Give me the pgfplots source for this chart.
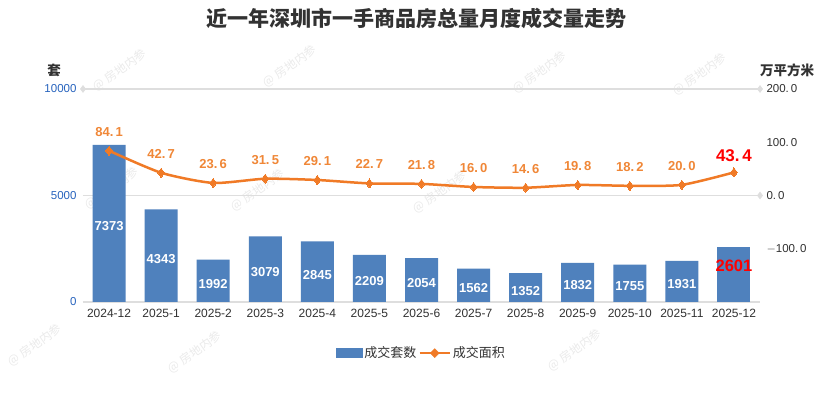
\documentclass[border=0pt]{standalone}
\usepackage{pgfplots}
\pgfplotsset{compat=1.18}
\usepackage{fontspec}
\setmainfont{Liberation Sans}
\newfontfamily\cjk{Noto Sans CJK SC}
\definecolor{barblue}{RGB}{79,129,189}
\definecolor{lineorange}{RGB}{240,122,38}
\definecolor{lblorange}{RGB}{240,135,55}
\definecolor{tickblue}{RGB}{40,100,190}
\definecolor{gridgray}{RGB}{222,222,222}
\definecolor{txt}{RGB}{50,50,50}
\begin{document}
\begin{tikzpicture}
\path[use as bounding box, fill=white] (0,0) rectangle (833pt,393pt);
\foreach \x/\y in {120/70, 290/66, 540/72, 700/74, 112/188, 258/190, 440/192, 35/345, 195/352, 575/350} {
  \node[gray, opacity=0.16, rotate=35, font=\cjk\fontsize{12}{12}\selectfont] at (\x pt,393pt-\y pt) {@ 房地内参};
}
\begin{axis}[
  at={(83pt,91pt)}, anchor=south west, scale only axis,
  width=677pt, height=213pt,
  xmin=-0.5, xmax=12.5, ymin=0, ymax=10000,
  axis line style={draw=none},
  major tick length=0pt,
  ytick={0,5000,10000},
  ymajorgrids, grid style={gridgray, line width=1.2pt},
  yticklabel style={tickblue, font=\fontsize{11.5}{12}\selectfont, xshift=-3pt},
  scaled y ticks=false,
  /pgf/number format/1000 sep={},
  /pgf/number format/assume math mode=true,
  xtick={0,...,12},
  xticklabels={2024-12,2025-1,2025-2,2025-3,2025-4,2025-5,2025-6,2025-7,2025-8,2025-9,2025-10,2025-11,2025-12},
  xticklabel style={txt, font=\fontsize{12}{12}\selectfont, yshift=-4pt},
  clip=false,
  legend style={draw=none, fill=none, at={(0.5,-0.24)}, anchor=center, legend columns=2,
    font=\cjk\fontsize{13}{13}\selectfont, text=txt,
    /tikz/every even column/.append style={column sep=0pt},
    inner sep=0pt, cells={anchor=west}},
]
\addplot[only marks, mark=diamond*, mark size=3.5pt, gridgray, forget plot]
  coordinates {(-0.5,10000) (12.5,10000) (12.5,5000)};
\addplot[ybar, bar width=33pt, bar shift=0pt, fill=barblue, draw=none, forget plot,
  visualization depends on=rawy\as\rawy,
  nodes near coords,
  every node near coord/.append style={white, font=\bfseries\fontsize{13}{13}\selectfont,
     anchor=center, shift={(axis direction cs:0,-\rawy/2)}, yshift=-3pt},
  /pgf/number format/1000 sep={}]
  coordinates {(0,7373) (1,4343) (2,1992) (3,3079) (4,2845) (5,2209) (6,2054) (7,1562) (8,1352) (9,1832) (10,1755) (11,1931)};
\addplot[ybar, bar width=33pt, bar shift=0pt, fill=barblue, draw=none, forget plot,
  visualization depends on=rawy\as\rawy,
  nodes near coords,
  every node near coord/.append style={red, font=\bfseries\fontsize{16.5}{16}\selectfont,
     anchor=center, shift={(axis direction cs:0,-\rawy/2)}, yshift=8pt},
  /pgf/number format/1000 sep={}]
  coordinates {(12,2601)};
\addlegendimage{legend image code/.code={\fill[barblue] (0pt,-4.5pt) rectangle (26pt,4.5pt);}}
\addlegendentry{成交套数}
\addlegendimage{legend image code/.code={\draw[lineorange,line width=2.5pt] (0pt,0pt)--(30pt,0pt);
   \fill[lineorange] (10.5pt,0pt)--(15pt,4.5pt)--(19.5pt,0pt)--(15pt,-4.5pt)--cycle;}}
\addlegendentry{成交面积}
\end{axis}
\begin{axis}[
  at={(83pt,91pt)}, anchor=south west, scale only axis,
  width=677pt, height=213pt,
  xmin=-0.5, xmax=12.5, ymin=-200, ymax=200,
  axis x line=none, axis y line*=right,
  axis line style={draw=none},
  major tick length=0pt,
  ytick={-100,0,100,200},
  yticklabels={$-$100.\,0,0.\,0,100.\,0,200.\,0},
  yticklabel style={txt, font=\fontsize{11.5}{12}\selectfont, xshift=3pt},
  clip=false,
]
\addplot[lineorange, line width=2.5pt, smooth, tension=0.4, mark=diamond*, mark size=4.5pt,
  mark options={fill=lineorange, draw=lineorange, line width=0pt}]
  coordinates {(0,84.1) (1,42.7) (2,23.6) (3,31.5) (4,29.1) (5,22.7) (6,21.8) (7,16.0) (8,14.6) (9,19.8) (10,18.2) (11,20.0) (12,43.4)};
\addplot[draw=none, mark=none, nodes near coords,
  every node near coord/.append style={lblorange, font=\bfseries\fontsize{13}{13}\selectfont, anchor=center, yshift=19pt},
  /pgf/number format/.cd, fixed, fixed zerofill, precision=1, set decimal separator={.\,}, assume math mode=true]
  coordinates {(0,84.1) (1,42.7) (2,23.6) (3,31.5) (4,29.1) (5,22.7) (6,21.8) (7,16.0) (8,14.6) (9,19.8) (10,18.2) (11,20.0)};
\addplot[draw=none, mark=none, nodes near coords,
  every node near coord/.append style={red, font=\bfseries\fontsize{17}{17}\selectfont, anchor=center, yshift=17pt},
  /pgf/number format/.cd, fixed, fixed zerofill, precision=1, set decimal separator={.\,}, assume math mode=true]
  coordinates {(12,43.4)};
\end{axis}
\node[txt, font=\cjk\bfseries\fontsize{21}{21}\selectfont] at (416pt,374pt) {近一年深圳市一手商品房总量月度成交量走势};
\node[txt, font=\cjk\bfseries\fontsize{13.5}{14}\selectfont] at (54pt,323pt) {套};
\node[txt, font=\cjk\bfseries\fontsize{13.5}{14}\selectfont] at (787pt,323pt) {万平方米};
\end{tikzpicture}
\end{document}
